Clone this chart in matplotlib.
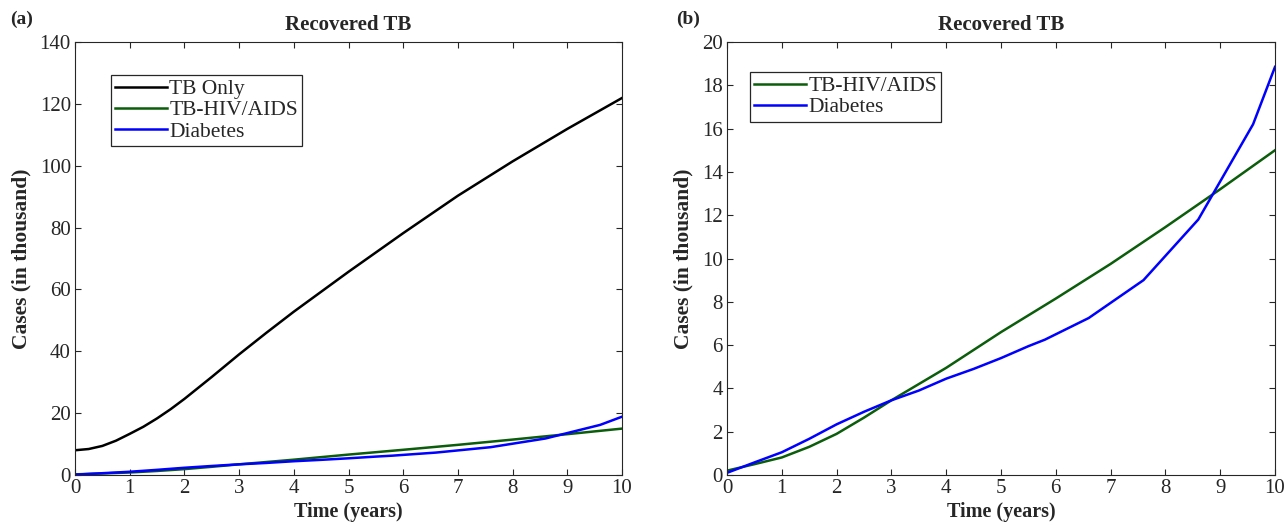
import matplotlib
matplotlib.use("Agg")
import matplotlib.pyplot as plt

plt.rcParams['font.family'] = ['Liberation Serif', 'DejaVu Serif']
plt.rcParams['mathtext.fontset'] = 'stix'

# ---- data (thousands of cases) ----
t_tb = [0, 0.25, 0.5, 0.75, 1, 1.25, 1.5, 1.75, 2, 2.5, 3, 3.5, 4, 5, 6, 7, 8, 9, 10]
tb_only = [8.0, 8.4, 9.4, 11.1, 13.3, 15.6, 18.3, 21.3, 24.6, 31.7, 39.0, 46.0, 52.8,
           65.7, 78.2, 90.3, 101.4, 111.9, 121.9]

t_hiv = [0, 0.5, 1, 1.5, 2, 2.5, 3, 4, 5, 6, 7, 8, 9, 10]
tb_hiv = [0.2, 0.5, 0.81, 1.3, 1.9, 2.65, 3.45, 4.95, 6.6, 8.15, 9.75, 11.45, 13.2, 15.0]

t_dia = [0, 0.5, 1, 1.5, 2, 2.5, 3, 3.5, 4, 4.5, 5, 5.5, 5.8, 6, 6.6, 7.6, 8.6, 9.6, 10]
diabetes = [0.1, 0.58, 1.05, 1.67, 2.34, 2.92, 3.45, 3.9, 4.45, 4.9, 5.4, 5.95, 6.25, 6.5,
            7.25, 9.0, 11.8, 16.2, 18.85]

x_ticks = list(range(0, 11))
y_ticks_a = list(range(0, 141, 20))
y_ticks_b = list(range(0, 21, 2))

title = "Recovered TB"
xlabel = "Time (years)"
ylabel = "Cases (in thousand)"

C_BLACK = '#000000'
C_GREEN = '#0b5d0b'
C_BLUE = '#0000ff'
SPINE = '#262626'

W, H = 1286, 526
fig = plt.figure(figsize=(W / 100, H / 100), dpi=100)

axa = fig.add_axes([75 / W, (H - 475) / H, 547 / W, 433 / H])
axb = fig.add_axes([727 / W, (H - 475) / H, 548 / W, 433 / H])


def style(ax, yticks, ymax):
    ax.set_xlim(0, 10)
    ax.set_ylim(0, ymax)
    ax.set_xticks(x_ticks)
    ax.set_yticks(yticks)
    ax.tick_params(direction='in', top=True, right=True, length=4.5, width=0.8,
                   labelsize=15, colors=SPINE, pad=3)
    ax.tick_params(axis='x', pad=3)
    for s in ax.spines.values():
        s.set_color(SPINE)
        s.set_linewidth(0.8)
    ax.set_title(title, fontsize=15, fontweight='bold', color=SPINE, pad=9)
    ax.set_xlabel(xlabel, fontsize=14.5, fontweight='bold', color=SPINE, labelpad=3)
    ax.set_ylabel(ylabel, fontsize=15.5, fontweight='bold', color=SPINE, labelpad=6)


lw = 1.8
axa.plot(t_tb, tb_only, color=C_BLACK, lw=lw, label='TB Only')
axa.plot(t_hiv, tb_hiv, color=C_GREEN, lw=lw, label='TB-HIV/AIDS')
axa.plot(t_dia, diabetes, color=C_BLUE, lw=lw, label='Diabetes')
style(axa, y_ticks_a, 140)

axb.plot(t_hiv, tb_hiv, color=C_GREEN, lw=lw, label='TB-HIV/AIDS')
axb.plot(t_dia, diabetes, color=C_BLUE, lw=lw, label='Diabetes')
style(axb, y_ticks_b, 20)


def legend(ax, anchor):
    leg = ax.legend(loc='upper left', bbox_to_anchor=anchor, fontsize=15.5,
                    frameon=True, fancybox=False, shadow=False,
                    handlelength=2.4, handletextpad=0.1, labelspacing=0.05,
                    borderpad=0.2, borderaxespad=0)
    fr = leg.get_frame()
    fr.set_edgecolor(SPINE)
    fr.set_linewidth(0.9)
    fr.set_alpha(1)
    for tx in leg.get_texts():
        tx.set_color(SPINE)
    return leg


legend(axa, (0.066, 0.924))
legend(axb, (0.042, 0.931))

fig.text(10 / W, 1 - 19 / H, '(a)', fontsize=14, fontweight='bold', color=SPINE, va='center', ha='left')
fig.text(676 / W, 1 - 19 / H, '(b)', fontsize=14, fontweight='bold', color=SPINE, va='center', ha='left')

fig.savefig('out.png', dpi=100)
